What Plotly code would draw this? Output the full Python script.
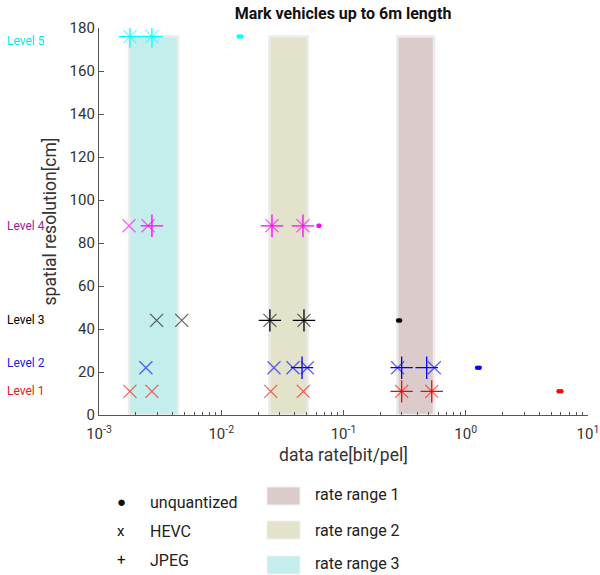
import plotly.graph_objects as go

# ---------------- data ----------------
level_names = ["Level 1", "Level 2", "Level 3", "Level 4", "Level 5"]
level_res = [11, 22, 44, 88, 176]          # spatial resolution [cm]
level_colors = ["#ff0000", "#0000ff", "#000000", "#ff00ff", "#00ffff"]
label_colors = ["#e02020", "#2020e0", "#000000", "#a020a0", "#00e8e8"]

# HEVC data rates per level
hevc_rates = [
    [0.00179, 0.00271, 0.0254, 0.0469, 0.299, 0.527],
    [0.00242, 0.0270, 0.0386, 0.0506, 0.277, 0.553],
    [0.00296, 0.00475, 0.0250, 0.0475],
    [0.00176, 0.00252, 0.0260, 0.0466],
    [0.00179, 0.00271],
]
# JPEG data rates per level
jpeg_rates = [
    [0.299, 0.527],
    [0.0458, 0.299, 0.479],
    [0.0250, 0.0475],
    [0.00271, 0.0260, 0.0466],
    [0.00179, 0.00271],
]
# unquantized data rates per level
unq_rates = [
    [5.75, 6.05],
    [1.24, 1.30],
    [0.280, 0.290],
    [0.0625, 0.0635],
    [0.0139, 0.0146],
]

range_names = ["rate range 1", "rate range 2", "rate range 3"]
range_lo = [0.275, 0.0247, 0.00176]
range_hi = [0.55, 0.0509, 0.00443]
range_top = 176
range_colors = ["#dbcbcb", "#e3e2ca", "#c4eeec"]

title = "Mark vehicles up to 6m length"
x_label = "data rate[bit/pel]"
y_label = "spatial resolution[cm]"
y_ticks = [0, 20, 40, 60, 80, 100, 120, 140, 160, 180]
x_ticks = [0.001, 0.01, 0.1, 1, 10]
x_tick_text = ["10<sup>-3</sup>", "10<sup>-2</sup>", "10<sup>-1</sup>",
               "10<sup>0</sup>", "10<sup>1</sup>"]
x_minor_ticks = [m * 10.0 ** e for e in (-3, -2, -1, 0) for m in range(2, 10)]

# ---------------- figure ----------------
fig = go.Figure()

for lo, hi, c in zip(range_lo, range_hi, range_colors):
    fig.add_trace(go.Scatter(
        x=[lo, hi, hi, lo, lo], y=[0, 0, range_top, range_top, 0],
        mode="lines", fill="toself", fillcolor=c,
        line=dict(color="#ececec", width=2.5),
        hoverinfo="skip", showlegend=False))

for i in range(len(level_res)):
    col = level_colors[i]
    fig.add_trace(go.Scatter(
        x=hevc_rates[i], y=[level_res[i]] * len(hevc_rates[i]),
        mode="markers", showlegend=False, opacity=0.6,
        marker=dict(symbol="x-thin-open", size=13, color=col,
                    line=dict(color=col, width=1.3))))
    fig.add_trace(go.Scatter(
        x=jpeg_rates[i], y=[level_res[i]] * len(jpeg_rates[i]),
        mode="markers", showlegend=False,
        marker=dict(symbol="cross-thin-open", size=16, color=col,
                    line=dict(color=col, width=1.3))))
    fig.add_trace(go.Scatter(
        x=unq_rates[i], y=[level_res[i]] * len(unq_rates[i]),
        mode="markers", showlegend=False,
        marker=dict(symbol="circle", size=4.5, color=col, line=dict(width=0))))

# invisible trace on a helper axis carrying the minor ticks
fig.add_trace(go.Scatter(x=[0.001, 10], y=[0, 0], xaxis="x2", mode="markers",
                         marker=dict(opacity=0), hoverinfo="skip", showlegend=False))

annotations = []
for name, yv, c in zip(level_names, level_res, label_colors):
    yy = yv
    if name == "Level 5":
        yy = 174
    if name == "Level 2":
        yy = 24
    annotations.append(dict(
        text=name, x=-0.192, xref="paper", y=yy, yref="y", xanchor="left",
        yanchor="middle", showarrow=False,
        font=dict(family="Roboto", size=12, color=c)))

# custom legend (below plot)
px_w, px_h = 600 - 99 - 12, 575 - 28 - 160


def px2paper(px, py):
    return (px - 99) / px_w, (415 - py) / px_h


leg_syms = ["●", "x", "+"]
leg_names = ["unquantized", "HEVC", "JPEG"]
leg_y = [502, 531, 560]
for s, n, py in zip(leg_syms, leg_names, leg_y):
    xs, ys = px2paper(121, py)
    annotations.append(dict(text=s, x=xs, y=ys, xref="paper", yref="paper",
                            showarrow=False, xanchor="center", yanchor="middle",
                            font=dict(family="Roboto", size=15, color="#111")))
    xt, yt = px2paper(148, py)
    annotations.append(dict(text=n, x=xt, y=yt, xref="paper", yref="paper",
                            showarrow=False, xanchor="left", yanchor="middle",
                            font=dict(family="Roboto", size=16, color="#222")))

shapes = []
sw_top = [487, 521, 556]
txt_y = [494, 530, 563]
for n, c, t, ty in zip(range_names, range_colors, sw_top, txt_y):
    x0, y0 = px2paper(267, t)
    x1, y1 = px2paper(300, t + 18)
    shapes.append(dict(type="rect", xref="paper", yref="paper",
                       x0=x0, x1=x1, y0=y1, y1=y0, fillcolor=c,
                       line=dict(color="#f0f0f0", width=1)))
    xt, yt = px2paper(313, ty)
    annotations.append(dict(text=n, x=xt, y=yt, xref="paper", yref="paper",
                            showarrow=False, xanchor="left", yanchor="middle",
                            font=dict(family="Roboto", size=16, color="#222")))

fig.update_layout(
    width=600, height=575,
    margin=dict(l=99, r=12, t=28, b=160, autoexpand=False),
    paper_bgcolor="white", plot_bgcolor="white",
    font=dict(family="Roboto", color="#333"),
    title=dict(text="<b>" + title + "</b>", x=(99 + 244) / 600, xanchor="center",
               y=1 - 13 / 575, yanchor="middle", automargin=False,
               font=dict(family="Roboto", size=16, color="#111")),
    xaxis=dict(type="log", range=[-3, 1], tickvals=x_ticks, ticktext=x_tick_text,
               automargin=False, ticklabelstandoff=5,
               showgrid=False, zeroline=False, showline=True,
               linecolor="#555", linewidth=1.2, ticks="inside", ticklen=5,
               tickcolor="#555", tickfont=dict(size=15, color="#333"),
               title=dict(text=x_label, font=dict(size=17.5, color="#333"), standoff=6)),
    xaxis2=dict(type="log", range=[-3, 1], overlaying="x", side="bottom",
                tickvals=x_minor_ticks, ticktext=[""] * len(x_minor_ticks),
                ticks="inside", ticklen=3, tickcolor="#555", showgrid=False,
                zeroline=False, showline=False, automargin=False),
    yaxis=dict(range=[0, 180], tickvals=y_ticks, showgrid=False, zeroline=False,
               automargin=False,
               showline=True, linecolor="#555", linewidth=1.2, ticks="inside",
               ticklen=5, tickcolor="#555", tickfont=dict(size=15, color="#333"),
               title=dict(text=y_label, font=dict(size=17.5, color="#333"), standoff=8)),
    annotations=annotations, shapes=shapes,
)

fig.write_html("out.html", config={"displayModeBar": False},
               post_script="document.body.style.margin='0';document.body.style.overflow='hidden';")
